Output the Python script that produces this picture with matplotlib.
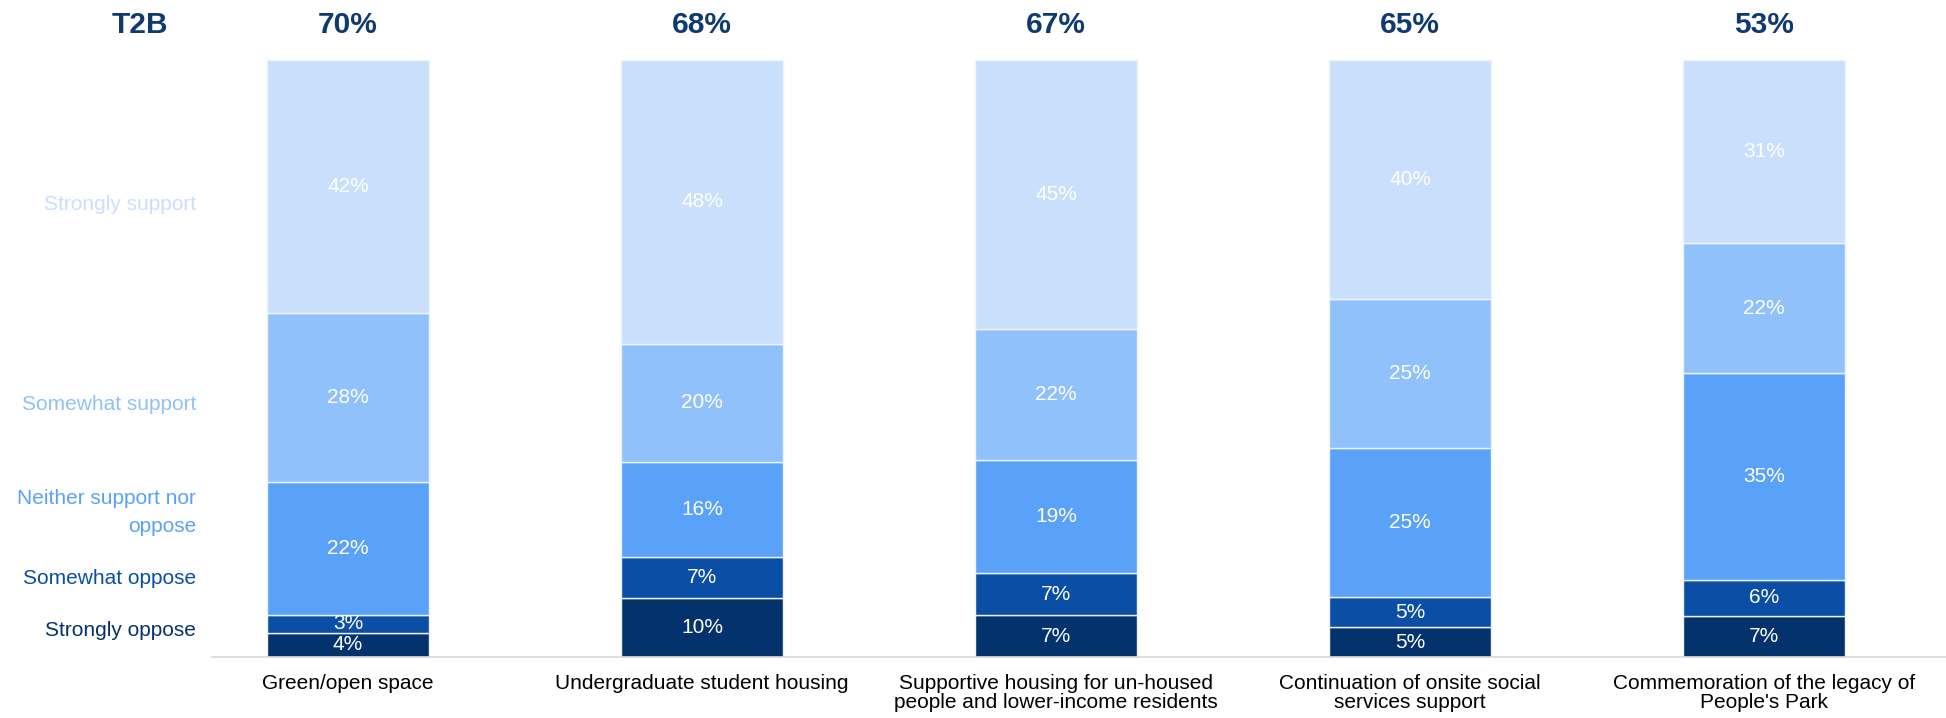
import matplotlib.pyplot as plt
import numpy as np

plt.rcParams['font.family'] = ['Liberation Sans', 'DejaVu Sans']

# data
categories = ["Green/open space", "Undergraduate student housing",
              "Supportive housing for un-housed\npeople and lower-income residents",
              "Continuation of onsite social\nservices support",
              "Commemoration of the legacy of\nPeople's Park"]
levels = ["Strongly oppose", "Somewhat oppose", "Neither support nor\noppose",
          "Somewhat support", "Strongly support"]
strongly_oppose = [4, 10, 7, 5, 7]
somewhat_oppose = [3, 7, 7, 5, 6]
neither = [22, 16, 19, 25, 35]
somewhat_support = [28, 20, 22, 25, 22]
strongly_support = [42, 48, 45, 40, 31]
t2b = [70, 68, 67, 65, 53]

colors = ["#03326D", "#0A4EA6", "#5AA2F9", "#90C1FB", "#C9DFFC"]
text_navy = "#0F3A70"

series = np.array([strongly_oppose, somewhat_oppose, neither,
                   somewhat_support, strongly_support], dtype=float)
totals = series.sum(axis=0)
shares = series / totals * 100  # bars are shown as 100% stacked

fig = plt.figure(figsize=(19.46, 7.18), dpi=100)
ax = fig.add_axes([212 / 1946, 1 - 657 / 718, 1 - 212 / 1946, (657 - 60) / 718])

x = np.arange(len(categories))
bottom = np.zeros(len(categories))
for i, row in enumerate(shares):
    ax.bar(x, row, width=0.46, bottom=bottom, color=colors[i],
           edgecolor="#EEF4FD", linewidth=1)
    for xi, b, h, v in zip(x, bottom, row, series[i]):
        ax.text(xi, b + h / 2, f"{int(v)}%", ha="center", va="center",
                color="white", fontsize=15)
    bottom += row

ax.set_xlim(-0.384, 4.514)
ax.set_ylim(0, 100)
ax.set_yticks([])
ax.set_xticks(x)
ax.set_xticklabels(categories, fontsize=15, color="black", linespacing=1.05, va="top")
ax.tick_params(axis="x", length=0, pad=12)
for s in ["top", "right", "left"]:
    ax.spines[s].set_visible(False)
ax.spines["bottom"].set_color("#D9D9D9")
ax.spines["bottom"].set_linewidth(1.2)

# T2B header and values
fig.text(140 / 1946, 1 - 25 / 718, "T2B", ha="center", va="center",
         fontsize=21.5, fontweight="bold", color=text_navy)
for xi, v in zip(x, t2b):
    xf = fig.transFigure.inverted().transform(ax.transData.transform((xi, 0)))[0]
    fig.text(xf, 1 - 25 / 718, f"{v}%", ha="center", va="center",
             fontsize=21.5, fontweight="bold", color=text_navy)

# level labels on the left
legend_y = [630, 578, 513, 405, 205]
for lab, yy, c in zip(levels, legend_y, colors):
    fig.text(196 / 1946, 1 - yy / 718, lab, ha="right", va="center",
             fontsize=15, color=c, linespacing=1.6)

fig.savefig("out.png", dpi=100)
